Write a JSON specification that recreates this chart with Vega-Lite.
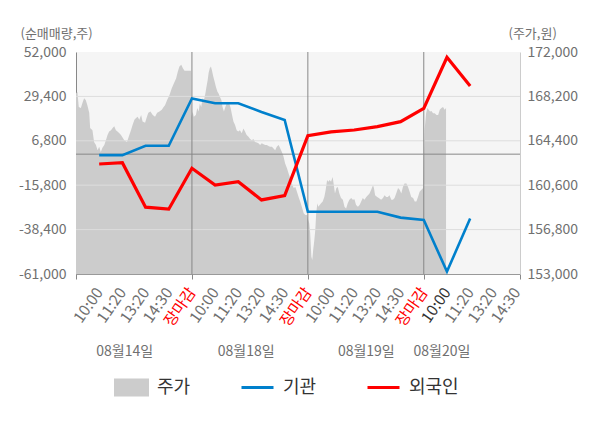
{
  "$schema": "https://vega.github.io/schema/vega-lite/v6.json",
  "description": "Intraday price area with institution and foreign net buying lines",
  "width": 444,
  "height": 222,
  "autosize": {"type": "none"},
  "padding": {"left": 76, "top": 52, "right": 80, "bottom": 154},
  "background": "white",
  "config": {
    "font": "Noto Sans CJK KR",
    "view": {"fill": "#f5f5f5", "stroke": null}
  },
  "datasets": {
    "price": [
      {"t": -1.0, "price": 168450}, {"t": -0.94, "price": 168600}, {"t": -0.88, "price": 167300},
      {"t": -0.79, "price": 167200}, {"t": -0.72, "price": 167650}, {"t": -0.65, "price": 168050},
      {"t": -0.58, "price": 167900}, {"t": -0.51, "price": 167450}, {"t": -0.43, "price": 166800},
      {"t": -0.39, "price": 165500}, {"t": -0.29, "price": 165300}, {"t": -0.22, "price": 164300},
      {"t": -0.14, "price": 164050}, {"t": -0.07, "price": 163600}, {"t": 0.0, "price": 163900},
      {"t": 0.07, "price": 163450}, {"t": 0.14, "price": 163800}, {"t": 0.22, "price": 164050},
      {"t": 0.29, "price": 164450}, {"t": 0.36, "price": 164900}, {"t": 0.43, "price": 165200},
      {"t": 0.51, "price": 165300}, {"t": 0.58, "price": 165500}, {"t": 0.65, "price": 165650},
      {"t": 0.72, "price": 165300}, {"t": 0.79, "price": 165200}, {"t": 0.87, "price": 165050},
      {"t": 0.94, "price": 164900}, {"t": 1.08, "price": 164450}, {"t": 1.2, "price": 164300},
      {"t": 1.3, "price": 164900}, {"t": 1.37, "price": 165300}, {"t": 1.44, "price": 165750},
      {"t": 1.52, "price": 166200}, {"t": 1.59, "price": 166350}, {"t": 1.66, "price": 166450},
      {"t": 1.73, "price": 166200}, {"t": 1.81, "price": 166600}, {"t": 1.87, "price": 166050},
      {"t": 1.98, "price": 165950}, {"t": 2.06, "price": 166450}, {"t": 2.12, "price": 166800},
      {"t": 2.21, "price": 166900}, {"t": 2.31, "price": 166600}, {"t": 2.41, "price": 166450},
      {"t": 2.5, "price": 166800}, {"t": 2.6, "price": 166900}, {"t": 2.7, "price": 167050},
      {"t": 2.78, "price": 167300}, {"t": 2.84, "price": 167450}, {"t": 2.93, "price": 167900},
      {"t": 3.03, "price": 168300}, {"t": 3.13, "price": 168900}, {"t": 3.22, "price": 169300},
      {"t": 3.32, "price": 169750}, {"t": 3.39, "price": 170300}, {"t": 3.46, "price": 170750},
      {"t": 3.54, "price": 170900}, {"t": 3.61, "price": 170600}, {"t": 3.68, "price": 170400},
      {"t": 3.9, "price": 170400}, {"t": 3.96, "price": 170400},
      {"t": 3.98, "price": 166450}, {"t": 4.03, "price": 166900}, {"t": 4.08, "price": 166450},
      {"t": 4.17, "price": 166600}, {"t": 4.23, "price": 167200}, {"t": 4.29, "price": 166900},
      {"t": 4.34, "price": 167600}, {"t": 4.4, "price": 167300}, {"t": 4.46, "price": 168050},
      {"t": 4.52, "price": 167900}, {"t": 4.58, "price": 168450}, {"t": 4.63, "price": 169050},
      {"t": 4.68, "price": 169600}, {"t": 4.72, "price": 170200}, {"t": 4.77, "price": 170600},
      {"t": 4.82, "price": 170750}, {"t": 4.86, "price": 170450}, {"t": 4.92, "price": 169900},
      {"t": 4.98, "price": 169450}, {"t": 5.03, "price": 169050}, {"t": 5.1, "price": 168600},
      {"t": 5.15, "price": 168450}, {"t": 5.21, "price": 168150}, {"t": 5.27, "price": 167900},
      {"t": 5.32, "price": 167300}, {"t": 5.38, "price": 166900}, {"t": 5.44, "price": 167300},
      {"t": 5.5, "price": 167600}, {"t": 5.55, "price": 167750}, {"t": 5.61, "price": 167600},
      {"t": 5.67, "price": 167200}, {"t": 5.73, "price": 166600}, {"t": 5.79, "price": 166050},
      {"t": 5.86, "price": 165750}, {"t": 5.93, "price": 165300}, {"t": 6.0, "price": 165200},
      {"t": 6.07, "price": 165300}, {"t": 6.15, "price": 165050}, {"t": 6.22, "price": 165450},
      {"t": 6.29, "price": 165200}, {"t": 6.36, "price": 164900}, {"t": 6.44, "price": 164750},
      {"t": 6.51, "price": 164550}, {"t": 6.58, "price": 164450}, {"t": 6.65, "price": 164550},
      {"t": 6.72, "price": 164300}, {"t": 6.8, "price": 164250}, {"t": 6.87, "price": 164200},
      {"t": 6.94, "price": 164050}, {"t": 7.01, "price": 164200}, {"t": 7.09, "price": 164100},
      {"t": 7.16, "price": 164050}, {"t": 7.23, "price": 164050}, {"t": 7.3, "price": 163950},
      {"t": 7.37, "price": 163900}, {"t": 7.45, "price": 163900}, {"t": 7.52, "price": 163750},
      {"t": 7.59, "price": 163600}, {"t": 7.66, "price": 163900}, {"t": 7.74, "price": 164050},
      {"t": 7.81, "price": 163750}, {"t": 7.88, "price": 163450}, {"t": 7.95, "price": 163050},
      {"t": 8.02, "price": 162450}, {"t": 8.1, "price": 162050}, {"t": 8.17, "price": 161600},
      {"t": 8.24, "price": 161200}, {"t": 8.31, "price": 160750}, {"t": 8.39, "price": 160350},
      {"t": 8.46, "price": 160450}, {"t": 8.53, "price": 160050}, {"t": 8.6, "price": 159600},
      {"t": 8.67, "price": 159200}, {"t": 8.74, "price": 158750}, {"t": 8.82, "price": 158200},
      {"t": 8.89, "price": 158050}, {"t": 8.96, "price": 158050},
      {"t": 9.02, "price": 157600}, {"t": 9.06, "price": 157350}, {"t": 9.1, "price": 156500},
      {"t": 9.15, "price": 154500}, {"t": 9.19, "price": 154200}, {"t": 9.23, "price": 155050},
      {"t": 9.28, "price": 155900}, {"t": 9.32, "price": 156750}, {"t": 9.36, "price": 158200},
      {"t": 9.41, "price": 159050}, {"t": 9.45, "price": 158750}, {"t": 9.51, "price": 158900},
      {"t": 9.57, "price": 159050}, {"t": 9.64, "price": 159200}, {"t": 9.71, "price": 159600},
      {"t": 9.77, "price": 160200}, {"t": 9.83, "price": 161050}, {"t": 9.88, "price": 160900},
      {"t": 9.94, "price": 161050}, {"t": 10.0, "price": 160900}, {"t": 10.07, "price": 161300},
      {"t": 10.11, "price": 160750}, {"t": 10.17, "price": 159900}, {"t": 10.23, "price": 160350},
      {"t": 10.29, "price": 160450}, {"t": 10.36, "price": 159900}, {"t": 10.43, "price": 159500},
      {"t": 10.51, "price": 159350}, {"t": 10.58, "price": 158750}, {"t": 10.65, "price": 158600},
      {"t": 10.72, "price": 159050}, {"t": 10.79, "price": 159350}, {"t": 10.87, "price": 159500},
      {"t": 10.94, "price": 159350}, {"t": 11.01, "price": 159400}, {"t": 11.08, "price": 158900},
      {"t": 11.16, "price": 158750}, {"t": 11.23, "price": 158900}, {"t": 11.3, "price": 159200},
      {"t": 11.37, "price": 159500}, {"t": 11.44, "price": 159350}, {"t": 11.52, "price": 159600},
      {"t": 11.59, "price": 159750}, {"t": 11.66, "price": 159900}, {"t": 11.73, "price": 160200},
      {"t": 11.81, "price": 160600}, {"t": 11.85, "price": 160350}, {"t": 11.9, "price": 159750},
      {"t": 11.99, "price": 159600}, {"t": 12.06, "price": 159500}, {"t": 12.16, "price": 159350},
      {"t": 12.24, "price": 159500}, {"t": 12.31, "price": 159750}, {"t": 12.38, "price": 159600},
      {"t": 12.45, "price": 159600}, {"t": 12.52, "price": 159750}, {"t": 12.6, "price": 159350},
      {"t": 12.67, "price": 159350}, {"t": 12.74, "price": 159500}, {"t": 12.81, "price": 159900},
      {"t": 12.89, "price": 160350}, {"t": 12.96, "price": 160200}, {"t": 13.03, "price": 159900},
      {"t": 13.1, "price": 160450}, {"t": 13.17, "price": 160750}, {"t": 13.25, "price": 160750},
      {"t": 13.32, "price": 160450}, {"t": 13.39, "price": 160050}, {"t": 13.46, "price": 159600},
      {"t": 13.54, "price": 159500}, {"t": 13.61, "price": 159200}, {"t": 13.68, "price": 159200},
      {"t": 13.75, "price": 159600}, {"t": 13.82, "price": 160050}, {"t": 13.9, "price": 160200},
      {"t": 13.97, "price": 160350},
      {"t": 14.04, "price": 165450}, {"t": 14.1, "price": 166750}, {"t": 14.16, "price": 167200},
      {"t": 14.21, "price": 167050}, {"t": 14.27, "price": 166900}, {"t": 14.33, "price": 166950},
      {"t": 14.4, "price": 166750}, {"t": 14.47, "price": 166750}, {"t": 14.55, "price": 166600},
      {"t": 14.62, "price": 166600}, {"t": 14.69, "price": 167050}, {"t": 14.76, "price": 167200},
      {"t": 14.83, "price": 167300}, {"t": 14.9, "price": 167050}, {"t": 14.96, "price": 167200}
    ],
    "flow": [
      {"t": 0, "series": "기관", "qty": -500}, {"t": 1, "series": "기관", "qty": -500},
      {"t": 2, "series": "기관", "qty": 4300}, {"t": 3, "series": "기관", "qty": 4300},
      {"t": 4, "series": "기관", "qty": 28400}, {"t": 5, "series": "기관", "qty": 25900},
      {"t": 6, "series": "기관", "qty": 25900}, {"t": 7, "series": "기관", "qty": 21500},
      {"t": 8, "series": "기관", "qty": 17400}, {"t": 9, "series": "기관", "qty": -29300},
      {"t": 10, "series": "기관", "qty": -29300}, {"t": 11, "series": "기관", "qty": -29300},
      {"t": 12, "series": "기관", "qty": -29300}, {"t": 13, "series": "기관", "qty": -32300},
      {"t": 14, "series": "기관", "qty": -33500}, {"t": 15, "series": "기관", "qty": -59800},
      {"t": 16, "series": "기관", "qty": -32700},
      {"t": 0, "series": "외국인", "qty": -5000}, {"t": 1, "series": "외국인", "qty": -4350},
      {"t": 2, "series": "외국인", "qty": -27000}, {"t": 3, "series": "외국인", "qty": -28000},
      {"t": 4, "series": "외국인", "qty": -7200}, {"t": 5, "series": "외국인", "qty": -15700},
      {"t": 6, "series": "외국인", "qty": -14000}, {"t": 7, "series": "외국인", "qty": -23300},
      {"t": 8, "series": "외국인", "qty": -21100}, {"t": 9, "series": "외국인", "qty": 9400},
      {"t": 10, "series": "외국인", "qty": 11300}, {"t": 11, "series": "외국인", "qty": 12300},
      {"t": 12, "series": "외국인", "qty": 14000}, {"t": 13, "series": "외국인", "qty": 16550},
      {"t": 14, "series": "외국인", "qty": 23300}, {"t": 15, "series": "외국인", "qty": 49300},
      {"t": 16, "series": "외국인", "qty": 34700}
    ],
    "hgrid": [{"v": 29400}, {"v": 6800}, {"v": -15800}, {"v": -38400}],
    "zeroline": [{"v": 0}],
    "bounds": [{"t": 4}, {"t": 9}, {"t": 14}],
    "dates": [
      {"t": 1.08, "date": "08월14일"}, {"t": 6.32, "date": "08월18일"},
      {"t": 11.5, "date": "08월19일"}, {"t": 14.76, "date": "08월20일"}
    ]
  },
  "layer": [
    {
      "data": {"name": "price"},
      "mark": {"type": "area", "color": "#cccccc", "clip": true},
      "encoding": {
        "x": {
          "field": "t",
          "type": "quantitative",
          "scale": {"domain": [-1, 18.15], "nice": false, "zero": false},
          "axis": {
            "orient": "bottom",
            "values": [0, 1, 2, 3, 4, 5, 6, 7, 8, 9, 10, 11, 12, 13, 14, 15, 16, 17, 18],
            "labelExpr": "['10:00','11:20','13:20','14:30','장마감'][datum.value % 5]",
            "labelAngle": -55,
            "labelFontSize": 15.5,
            "labelColor": {
              "condition": [
                {"test": "datum.value % 5 === 4", "value": "#ff0000"},
                {"test": "datum.value === 15", "value": "#333333"}
              ],
              "value": "#707070"
            },
            "labelPadding": 15,
            "labelOverlap": false,
            "labelFlush": false,
            "labelBound": false,
            "ticks": false,
            "tickSize": 0,
            "grid": false,
            "domain": true,
            "domainColor": "#999999",
            "title": null
          }
        },
        "y": {
          "field": "price",
          "type": "quantitative",
          "scale": {"domain": [153000, 172000], "nice": false, "zero": false},
          "axis": {
            "orient": "right",
            "values": [153000, 156800, 160600, 164400, 168200, 172000],
            "labelExpr": "replace(format(datum.value, ','), '−', '-')",
            "labelFontSize": 14,
            "labelColor": "#707070",
            "labelPadding": 7,
            "labelFlush": false,
            "labelOverlap": false,
            "ticks": false,
            "tickSize": 0,
            "grid": false,
            "domainColor": "#cccccc",
            "title": "(주가,원)",
            "titleAngle": 0,
            "titleAlign": "left",
            "titleBaseline": "middle",
            "titleX": -12,
            "titleY": -19,
            "titleFontSize": 13,
            "titleFontWeight": "normal",
            "titleColor": "#707070"
          }
        }
      }
    },
    {
      "layer": [
        {
          "data": {"name": "hgrid"},
          "mark": {"type": "rule", "color": "#dddddd", "strokeWidth": 1},
          "encoding": {"y": {"field": "v", "type": "quantitative"}}
        },
        {
          "data": {"name": "zeroline"},
          "mark": {"type": "rule", "color": "#888888", "strokeWidth": 1},
          "encoding": {"y": {"field": "v", "type": "quantitative"}}
        },
        {
          "data": {"name": "bounds"},
          "mark": {"type": "rule", "color": "#888888", "strokeWidth": 1},
          "encoding": {
            "x": {
              "field": "t",
              "type": "quantitative",
              "axis": {
                "orient": "bottom",
                "values": [-1, 4, 9, 14, 18.15],
                "labels": false,
                "ticks": true,
                "tickSize": 5,
                "tickColor": "#888888",
                "domain": false,
                "grid": false,
                "title": null
              }
            }
          }
        },
        {
          "data": {"name": "flow"},
          "mark": {"type": "line", "strokeCap": "butt"},
          "encoding": {
            "x": {"field": "t", "type": "quantitative"},
            "y": {
              "field": "qty",
              "type": "quantitative",
              "scale": {"domain": [-61000, 52000], "nice": false, "zero": false},
              "axis": {
                "orient": "left",
                "values": [-61000, -38400, -15800, 6800, 29400, 52000],
                "labelExpr": "replace(format(datum.value, ','), '−', '-')",
                "labelFontSize": 14,
                "labelColor": "#707070",
                "labelPadding": 10,
                "labelFlush": false,
                "labelOverlap": false,
                "ticks": false,
                "tickSize": 0,
                "grid": false,
                "domain": true,
                "domainColor": "#888888",
                "title": "(순매매량,주)",
                "titleAngle": 0,
                "titleAlign": "left",
                "titleBaseline": "middle",
                "titleX": -56,
                "titleY": -19,
                "titleFontSize": 13,
                "titleFontWeight": "normal",
                "titleColor": "#707070"
              }
            },
            "color": {
              "field": "series",
              "type": "nominal",
              "scale": {
                "domain": ["주가", "기관", "외국인"],
                "range": ["#cccccc", "#0080cc", "#ff0000"]
              },
              "legend": {
                "title": null,
                "orient": "none",
                "legendX": 38,
                "legendY": 318,
                "direction": "horizontal",
                "gridAlign": "none",
                "padding": 0,
                "symbolSize": 1024,
                "symbolStrokeWidth": 3,
                "labelFontSize": 18,
                "labelColor": "#333333",
                "labelOffset": 8,
                "columnPadding": 44,
                "encode": {
                  "symbols": {
                    "update": {
                      "shape": {"signal": "datum.value === '주가' ? 'M-1,-0.47H1V0.47H-1Z' : 'M-1,0H1'"},
                      "fill": {"signal": "datum.value === '주가' ? '#cccccc' : 'transparent'"},
                      "stroke": {"signal": "datum.value === '주가' ? 'transparent' : datum.value === '기관' ? '#0080cc' : '#ff0000'"},
                      "opacity": {"value": 1}
                    }
                  }
                }
              }
            },
            "strokeWidth": {
              "field": "series",
              "type": "nominal",
              "scale": {"domain": ["기관", "외국인"], "range": [2.6, 3.2]},
              "legend": null
            }
          }
        }
      ]
    },
    {
      "data": {"name": "dates"},
      "mark": {"type": "point", "opacity": 0},
      "encoding": {
        "x": {
          "field": "t",
          "type": "quantitative",
          "axis": {
            "orient": "bottom",
            "values": [1.08, 6.32, 11.5, 14.76],
            "labelExpr": "datum.value < 3 ? '08월14일' : datum.value < 8 ? '08월18일' : datum.value < 13 ? '08월19일' : '08월20일'",
            "labelAngle": 0,
            "labelFontSize": 14,
            "labelColor": "#707070",
            "labelPadding": 70,
            "labelFlush": false,
            "labelOverlap": false,
            "ticks": false,
            "tickSize": 0,
            "domain": false,
            "grid": false,
            "title": null
          }
        }
      }
    }
  ],
  "resolve": {
    "scale": {"y": "independent"},
    "axis": {"x": "independent", "y": "independent"}
  }
}
